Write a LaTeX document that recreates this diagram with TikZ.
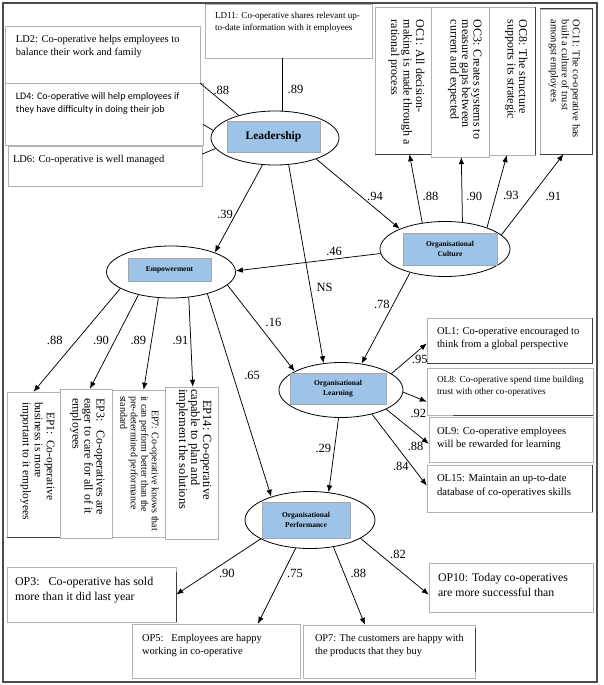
\documentclass[tikz,border=0pt]{standalone}
\usepackage{fontspec}
\setmainfont{Liberation Serif}
\newfontfamily\calibri{Carlito}
\usepackage{tikz}
\usetikzlibrary{shapes,shapes.geometric,arrows,arrows.meta,positioning}
\definecolor{tagblue}{RGB}{157,195,230}

\begin{document}
\begin{tikzpicture}[x=1pt,y=-1pt]
        \tikzstyle{latent} = [draw, ellipse, line width=0.8pt, inner sep=0pt]
        \tikzstyle{tag} = [draw=black!35, fill=tagblue, rectangle, inner sep=0pt, align=center]
        \tikzstyle{item} = [draw=black!30, fill=white, rectangle, inner sep=0pt]
        \tikzstyle{txt} = [anchor=north west, align=left, inner sep=0pt]
        \tikzstyle{vtxt} = [txt, rotate=-90]
        \tikzstyle{coef} = [inner sep=2pt, font=\fontsize{12.5}{14}\selectfont]
        \tikzstyle{link} = [draw, line width=0.75pt]
        \tikzstyle{load} = [link, -{Latex[length=7pt,width=5.5pt]}]
        \tikzstyle{shade} = [line width=1.3pt, black!75]

        \useasboundingbox (0,0) rectangle (603,685);
        \draw[line width=1.2pt, black!70] (3,3) rectangle (597,682);

        \node[item, minimum width=167pt, minimum height=54pt] (ld11) at (288.5,31) {};
        \node[txt, font=\fontsize{9.1}{12.5}\selectfont] (ld11t) at ([xshift=10pt,yshift=-8pt]ld11.north west) {LD11: Co-operative shares relevant up-\\to-date information with it employees};
        \node[item, minimum width=195pt, minimum height=57pt] (ld2) at (102.5,54.5) {};
        \node[txt, font=\fontsize{10.5}{12.6}\selectfont] (ld2t) at ([xshift=11pt,yshift=-9.5pt]ld2.north west) {LD2: Co-operative helps employees to\\balance their work and family};
        \node[item, minimum width=198pt, minimum height=62pt] (ld4) at (104,114) {};
        \node[txt, font=\calibri\fontsize{10}{13}\selectfont] (ld4t) at ([xshift=11pt,yshift=-10pt]ld4.north west) {LD4: Co-operative will help employees if\\they have difficulty in doing their job};
        \node[item, minimum width=194pt, minimum height=40pt] (ld6) at (105,166) {};
        \node[txt, font=\fontsize{10.5}{12.6}\selectfont] (ld6t) at ([xshift=5pt,yshift=-9pt]ld6.north west) {LD6: Co-operative is well managed};

        \node[item, minimum width=56pt, minimum height=147pt] (oc1) at (403,80.5) {};
        \node[vtxt, font=\fontsize{12}{12.5}\selectfont] (oc1t) at ([xshift=-6.5pt,yshift=-13pt]oc1.north east) {OC1: All decision-\\making is made through a\\rational process};
        \node[item, minimum width=58pt, minimum height=150pt] (oc3) at (460,82) {};
        \node[vtxt, font=\fontsize{12}{11.5}\selectfont] (oc3t) at ([xshift=-7.5pt,yshift=-13pt]oc3.north east) {OC3: Creates systems to\\measure gaps between\\current and expected};
        \node[item, minimum width=46pt, minimum height=148pt] (oc8) at (512,81) {};
        \node[vtxt, font=\fontsize{12}{11.5}\selectfont] (oc8t) at ([xshift=-7.5pt,yshift=-13pt]oc8.north east) {OC8: The structure\\supports its strategic};
        \node[item, minimum width=52pt, minimum height=145pt] (oc11) at (566,81.5) {};
        \node[vtxt, font=\fontsize{10.4}{11}\selectfont] (oc11t) at ([xshift=-12pt,yshift=-11pt]oc11.north east) {OC11: The co-operative has\\built a culture of trust\\amongst employees};
        \draw[shade] (oc1.south west) -- (oc1.south east);
        \draw[shade] (oc8.north east) -- (oc8.south east);
        \draw[shade] (oc11.north west) -- (oc11.north east) -- (oc11.south east) -- (oc11.south west);

        \node[item, minimum width=53pt, minimum height=145pt] (ep1) at (33.5,464.5) {};
        \node[vtxt, font=\fontsize{11.5}{12}\selectfont] (ep1t) at ([xshift=-5.5pt,yshift=-10pt]ep1.north east) {\hspace*{10pt}EP1:~~Co-operative\\business is more\\important to it employees};
        \node[item, minimum width=52pt, minimum height=149pt] (ep3) at (86,463.5) {};
        \node[vtxt, font=\fontsize{12}{12}\selectfont] (ep3t) at ([xshift=-7.5pt,yshift=-9pt]ep3.north east) {EP3:~~~Co-operatives are\\eager to care for all of it\\employees};
        \node[item, minimum width=53pt, minimum height=147pt] (ep7) at (138.5,463.5) {};
        \node[vtxt, font=\fontsize{10}{10.5}\selectfont] (ep7t) at ([xshift=-6.2pt,yshift=-6pt]ep7.north east) {\hspace*{14pt}EP7: Co-operative knows that\\it can perform better than the\\pre-determined performance\\standard};
        \node[item, minimum width=53pt, minimum height=152pt] (ep14) at (191.5,463) {};
        \node[vtxt, font=\fontsize{12.5}{12}\selectfont] (ep14t) at ([xshift=-6.5pt,yshift=-2pt]ep14.north east) {\hspace*{11pt}EP14: Co-operative\\capable to plan and\\implement the solutions};
        \draw[shade] (ep1.south west) -- (ep1.south east);

        \node[item, minimum width=165pt, minimum height=45pt] (ol1) at (509.5,340.5) {};
        \node[txt, font=\fontsize{10.5}{13}\selectfont] (ol1t) at ([xshift=10pt,yshift=-9pt]ol1.north west) {OL1: Co-operative encouraged to\\think from a global perspective};
        \node[item, minimum width=166pt, minimum height=47pt] (ol8) at (510,391.5) {};
        \node[txt, font=\fontsize{9.25}{12}\selectfont] (ol8t) at ([xshift=10pt,yshift=-8.5pt]ol8.north west) {OL8: Co-operative spend time building\\trust with other co-operatives};
        \node[item, minimum width=164pt, minimum height=45pt] (ol9) at (511,439.5) {};
        \node[txt, font=\fontsize{10.6}{13}\selectfont] (ol9t) at ([xshift=8pt,yshift=-10pt]ol9.north west) {OL9: Co-operative employees\\will be rewarded for learning};
        \node[item, minimum width=165pt, minimum height=47pt] (ol15) at (509.5,488.5) {};
        \node[txt, font=\fontsize{10.7}{14}\selectfont] (ol15t) at ([xshift=10pt,yshift=-9pt]ol15.north west) {OL15: Maintain an up-to-date\\database of co-operatives skills};
        \draw[shade] (ol1.north east) -- (ol1.south east) -- (ol1.south west);
        \draw[shade] ([xshift=26pt]ol8.south west) -- (ol8.south east);
        \draw[shade] (ol15.north east) -- (ol15.south east);

        \node[item, minimum width=169pt, minimum height=55pt] (op3) at (91.5,594.5) {};
        \node[txt, font=\fontsize{12}{15}\selectfont] (op3t) at ([xshift=8pt,yshift=-10pt]op3.north west) {OP3:~~~Co-operative has sold\\more than it did last year};
        \node[item, minimum width=168pt, minimum height=54pt] (op5) at (216,651) {};
        \node[txt, font=\fontsize{10.5}{13}\selectfont] (op5t) at ([xshift=10pt,yshift=-10.5pt]op5.north west) {OP5:~~~Employees are happy\\working in co-operative};
        \node[item, minimum width=172pt, minimum height=53pt] (op7) at (389,651.5) {};
        \node[txt, font=\fontsize{10.3}{13}\selectfont] (op7t) at ([xshift=12pt,yshift=-9.5pt]op7.north west) {OP7: The customers are happy with\\the products that they buy};
        \node[item, minimum width=164pt, minimum height=49pt] (op10) at (511,587.5) {};
        \node[txt, font=\fontsize{11.8}{15}\selectfont] (op10t) at ([xshift=9pt,yshift=-10pt]op10.north west) {OP10: Today co-operatives\\are more successful than};
        \draw[shade] ([yshift=-5pt]op3.north east) -- (op3.south east);
        \draw[shade] ([yshift=-3pt]op7.north east) -- ([yshift=6pt]op7.south east);

        \node[latent, minimum width=128pt, minimum height=54pt] (lead) at (275,138) {};
        \node[tag, minimum width=93pt, minimum height=31pt, font=\bfseries\fontsize{11.5}{13}\selectfont] (leadt) at (273.5,136.5) {Leadership};
        \node[latent, minimum width=130pt, minimum height=55pt] (cult) at (445,249) {};
        \node[tag, minimum width=94pt, minimum height=32pt, font=\bfseries\fontsize{7.5}{10}\selectfont] (cultt) at (450,249) {Organisational\\Culture};
        \node[latent, minimum width=129pt, minimum height=52pt] (emp) at (171,272) {};
        \node[tag, minimum width=83pt, minimum height=23pt, font=\bfseries\fontsize{7.5}{10}\selectfont] (empt) at (169.5,269.5) {Empowerment};
        \node[latent, minimum width=124pt, minimum height=55pt] (learn) at (341,390) {};
        \node[tag, minimum width=96pt, minimum height=31pt, font=\bfseries\fontsize{7.5}{10}\selectfont] (learnt) at (338,388.5) {Organisational\\Learning};
        \node[latent, minimum width=130pt, minimum height=57pt] (perf) at (310,520) {};
        \node[tag, minimum width=88pt, minimum height=36pt, font=\bfseries\fontsize{7.5}{10}\selectfont] (perft) at (306,520) {Organisational\\Performance};

        \path (ld11.south -| lead.75) edge[link] node[coef, pos=.6, right=3pt] (c89a) {.89} (lead.75);
        \path (ld2.south east) edge[link] node[coef, pos=.55, above=4pt] (c88a) {.88} (lead.148);
        \path (ld4.-6) edge[link] (lead.173);
        \path (ld6.7) edge[link] (lead.190);

        \path (lead.333) edge[load] node[coef, pos=.54, right=3.5pt] (c94) {.94} (cult.156);
        \path (lead.245) edge[load] node[coef, pos=.57, left] (c39) {.39} (emp.24);
        \path (lead.297) edge[load] node[coef, pos=.62, right=4pt] (cns) {NS} (learn.123);
        \path (cult.184) edge[load] node[coef, pos=.32, above=1pt] (c46) {.46} (emp.1);
        \path (cult.214) edge[load] node[coef, pos=.35, left=1pt] (c78) {.78} (learn.52);
        \path (emp.-13) edge[load] node[coef, pos=.43, right=7pt] (c16) {.16} (learn.158);
        \path (emp.-31) edge[load] node[coef, pos=.4, right=9pt] (c65) {.65} (perf.149);
        \path (learn.265) edge[load] node[coef, pos=.41, left=1pt] (c29) {.29} (perf.56);

        \path (cult.131) edge[load] node[coef, pos=.39, right=3pt] (c88b) {.88} (oc1.-85);
        \path (cult.57) edge[load] node[coef, pos=.4, right=2pt] (c90a) {.90} (oc3.-89);
        \path (cult.27) edge[load] node[coef, pos=.44, right=5pt] (c93) {.93} (oc8.-94);
        \path (cult.14) edge[load] node[coef, pos=.48, right=12pt] (c91a) {.91} (oc11.-92);

        \path (emp.198) edge[load] node[coef, pos=.5, left=12pt] (c88c) {.88} (ep1.north);
        \path (emp.215) edge[load] node[coef, pos=.48, left=4pt] (c90b) {.90} (ep3.87);
        \path (emp.244) edge[load] node[coef, pos=.46, left=3pt] (c89b) {.89} (ep7.86);
        \path (emp.-55) edge[load] node[coef, pos=.48, left] (c91b) {.91} (ep14.89);

        \path (learn.18) edge[load] node[coef, pos=.8, below=3pt] (c95) {.95} (ol1.182);
        \path (learn.-2) edge[load] node[coef, pos=.64, below=9pt] (c92) {.92} (ol8.187);
        \path (learn.-23) edge[load] node[coef, pos=.69, below=7pt] (c88d) {.88} (ol9.183);
        \path (learn.-38) edge[load] node[coef, pos=.73, left=1pt] (c84) {.84} (ol15.178);

        \path (perf.201) edge[load] node[coef, pos=.4, below=6pt] (c90c) {.90} (op3.east);
        \path (perf.243) edge[load] node[coef, pos=.34, right=2pt] (c75) {.75} (op5.33);
        \path (perf.-49) edge[load] node[coef, pos=.34, right=4pt] (c88e) {.88} (op7.132);
        \path (perf.-20) edge[load] node[coef, pos=.55, above=8pt] (c82) {.82} (op10.185);
\end{tikzpicture}
\end{document}
